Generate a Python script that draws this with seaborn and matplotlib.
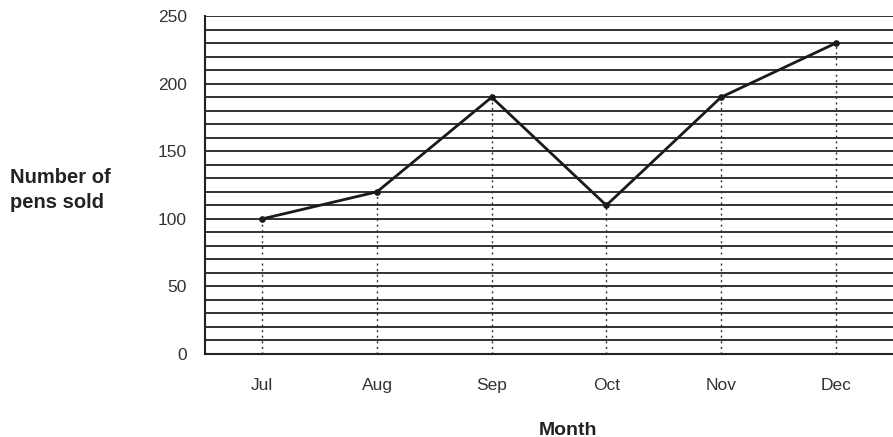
import matplotlib
matplotlib.use("Agg")
import pandas as pd
import seaborn as sns
import matplotlib.pyplot as plt

# data
months = ["Jul", "Aug", "Sep", "Oct", "Nov", "Dec"]
pens_sold = [100, 120, 190, 110, 190, 230]
y_ticks = [0, 50, 100, 150, 200, 250]

df = pd.DataFrame({"month": months, "pens": pens_sold})
df["pos"] = range(len(months))

sns.set_style("white")
plt.rcParams["font.family"] = ["Liberation Sans", "DejaVu Sans"]

fig = plt.figure(figsize=(8.93, 4.37), dpi=100)
ax = fig.add_axes([0.2296, 0.19, 0.7704, 0.773])

# horizontal ruled lines every 10
for y in range(0, 251, 10):
    ax.axhline(y, color="#222222", lw=1.3, zorder=1)

# dotted drop lines from each point
ax.vlines(df["pos"], 0, df["pens"], colors="#333333", linestyles=(0, (1.5, 2.5)), lw=1.0, zorder=2)

sns.lineplot(data=df, x="pos", y="pens", ax=ax, color="#1a1a1a", lw=2.0,
             marker="o", markersize=4, markeredgecolor="#1a1a1a", zorder=3)

ax.set_xlim(-0.5, 5.5)
ax.set_ylim(0, 250)
ax.set_xticks(df["pos"])
ax.set_xticklabels(months)
ax.set_yticks(y_ticks)
ax.tick_params(axis="both", length=0, labelsize=12.5, labelcolor="#333333")
ax.tick_params(axis="x", pad=17)
ax.tick_params(axis="y", pad=13)

for side in ["top", "right"]:
    ax.spines[side].set_visible(False)
ax.spines["left"].set_color("#222222")
ax.spines["bottom"].set_color("#222222")
ax.spines["left"].set_linewidth(1.5)
ax.spines["bottom"].set_linewidth(1.5)

ax.set_xlabel("Month", fontsize=14, fontweight="bold", color="#222222")
ax.xaxis.set_label_coords(0.528, -0.2)
ax.set_ylabel("")
fig.text(0.011, 0.565, "Number of\npens sold", fontsize=14.5, fontweight="bold",
         color="#222222", ha="left", va="center", linespacing=1.35)

fig.savefig("out.png", dpi=100)
